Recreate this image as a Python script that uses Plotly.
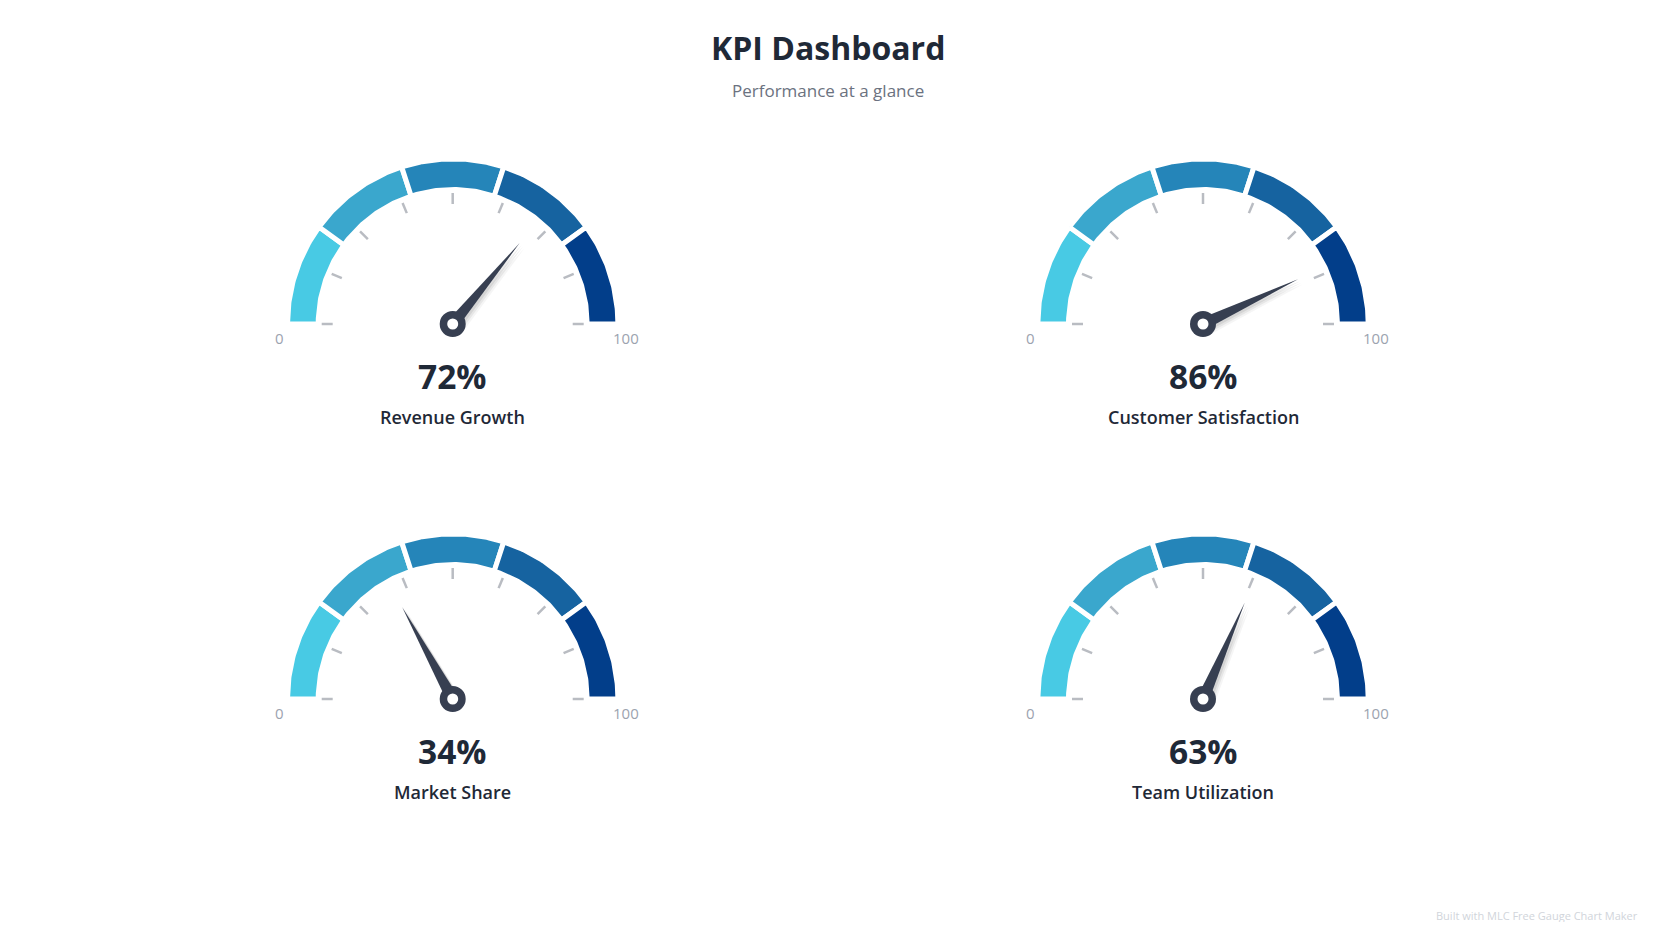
import numpy as np
import plotly.graph_objects as go

# KPI readings (0-100 scale)
kpi_names = ["Revenue Growth", "Customer Satisfaction", "Market Share", "Team Utilization"]
kpi_values = [72, 86, 34, 63]

# gauge scale
scale_min = 0
scale_max = 100
band_edges = [0, 20, 40, 60, 80, 100]
band_colors = ["#48cae4", "#3aa7cd", "#2585b9", "#1663a0", "#023e8a"]
tick_values = [0, 12.5, 25, 37.5, 50, 62.5, 75, 87.5, 100]
end_labels = ["0", "100"]

chart_title = "KPI Dashboard"
chart_subtitle = "Performance at a glance"
footer_text = "Built with MLC Free Gauge Chart Maker"

# page layout (pixels); the page body has an 8px margin
W, H = 1656, 930
PAD = 8
centers = [(452.7, 324), (1203, 324), (452.7, 699), (1203, 699)]
R_OUT, R_IN = 165.2, 134.5
TICK_R0, TICK_R1 = 120, 131
NEEDLE_LEN = 105
NEEDLE_HALF = 6
FONT = "Open Sans, Noto Sans, sans-serif"
DARK = "#1f2937"
NEEDLE = "#373f51"


def ang(v):
    return np.pi * (1 - (v - scale_min) / (scale_max - scale_min))


def pt(cx, cy, r, a):
    return cx + r * np.cos(a), cy - r * np.sin(a)


fig = go.Figure()
annos = []
shapes = []

for (cx, cy), name, val in zip(centers, kpi_names, kpi_values):
    # coloured bands, white stroke makes the gaps
    for i in range(len(band_colors)):
        a = np.linspace(ang(band_edges[i]), ang(band_edges[i + 1]), 60)
        xo, yo = pt(cx, cy, R_OUT, a)
        xi, yi = pt(cx, cy, R_IN, a[::-1])
        fig.add_trace(go.Scatter(x=np.r_[xo, xi, xo[0]], y=np.r_[yo, yi, yo[0]],
                                 mode="lines", fill="toself", fillcolor=band_colors[i],
                                 line=dict(color="white", width=5), hoverinfo="skip"))
    # tick marks
    tx, ty = [], []
    for t in tick_values:
        x0, y0 = pt(cx, cy, TICK_R0, ang(t))
        x1, y1 = pt(cx, cy, TICK_R1, ang(t))
        tx += [x0, x1, None]
        ty += [y0, y1, None]
    fig.add_trace(go.Scatter(x=tx, y=ty, mode="lines", line=dict(color="#b9bcc2", width=2.5),
                             hoverinfo="skip"))
    # needle (with a soft shadow)
    a = ang(val)
    bx, by = NEEDLE_HALF * np.cos(a + np.pi / 2), -NEEDLE_HALF * np.sin(a + np.pi / 2)
    tipx, tipy = pt(cx, cy, NEEDLE_LEN, a)
    for off, alpha in [(5, 0.04), (3.5, 0.06), (2, 0.08)]:
        fig.add_trace(go.Scatter(x=[cx + bx + off, tipx + off, cx - bx + off, cx + bx + off],
                                 y=[cy + by + off, tipy + off, cy - by + off, cy + by + off],
                                 mode="lines", fill="toself", fillcolor="rgba(0,0,0,%s)" % alpha,
                                 line=dict(width=0), hoverinfo="skip"))
    fig.add_trace(go.Scatter(x=[cx + bx, tipx, cx - bx, cx + bx], y=[cy + by, tipy, cy - by, cy + by],
                             mode="lines", fill="toself", fillcolor=NEEDLE,
                             line=dict(width=0, color=NEEDLE), hoverinfo="skip"))
    # hub
    shapes.append(dict(type="circle", xref="x", yref="y", x0=cx - 13, x1=cx + 13, y0=cy - 13, y1=cy + 13,
                       fillcolor=NEEDLE, line=dict(width=0), layer="above"))
    shapes.append(dict(type="circle", xref="x", yref="y", x0=cx - 5.5, x1=cx + 5.5, y0=cy - 5.5, y1=cy + 5.5,
                       fillcolor="white", line=dict(width=0), layer="above"))
    # scale end labels
    for lbl, dx in zip(end_labels, [-173, 173]):
        annos.append(dict(x=cx + dx, y=cy + 14, xref="x", yref="y", text=lbl, showarrow=False,
                          font=dict(family=FONT, size=15, color="#9ca3af")))
    annos.append(dict(x=cx, y=cy + 52, xref="x", yref="y", text="%d%%" % val, showarrow=False,
                      font=dict(family=FONT, size=33.5, color=DARK, weight=700)))
    annos.append(dict(x=cx, y=cy + 93, xref="x", yref="y", text=name, showarrow=False,
                      font=dict(family=FONT, size=18, color=DARK, weight=600)))

annos.append(dict(x=W / 2, y=47.5, xref="x", yref="y", text=chart_title, showarrow=False,
                  font=dict(family=FONT, size=32, color=DARK, weight=700)))
annos.append(dict(x=W / 2, y=90, xref="x", yref="y", text=chart_subtitle, showarrow=False,
                  font=dict(family=FONT, size=17, color="#6b7280")))
annos.append(dict(x=1640, y=915, xref="x", yref="y", text=footer_text, showarrow=False,
                  xanchor="right", font=dict(family=FONT, size=11, color="#d1d5db")))

fig.update_layout(width=W - 2 * PAD, height=H - 2 * PAD, margin=dict(l=0, r=0, t=0, b=0),
                  paper_bgcolor="white", plot_bgcolor="white", showlegend=False,
                  hovermode=False, annotations=annos, shapes=shapes,
                  xaxis=dict(range=[PAD, W - PAD], visible=False, fixedrange=True),
                  yaxis=dict(range=[H - PAD, PAD], visible=False, fixedrange=True))

fig.write_html("out.html", config={"displayModeBar": False})
